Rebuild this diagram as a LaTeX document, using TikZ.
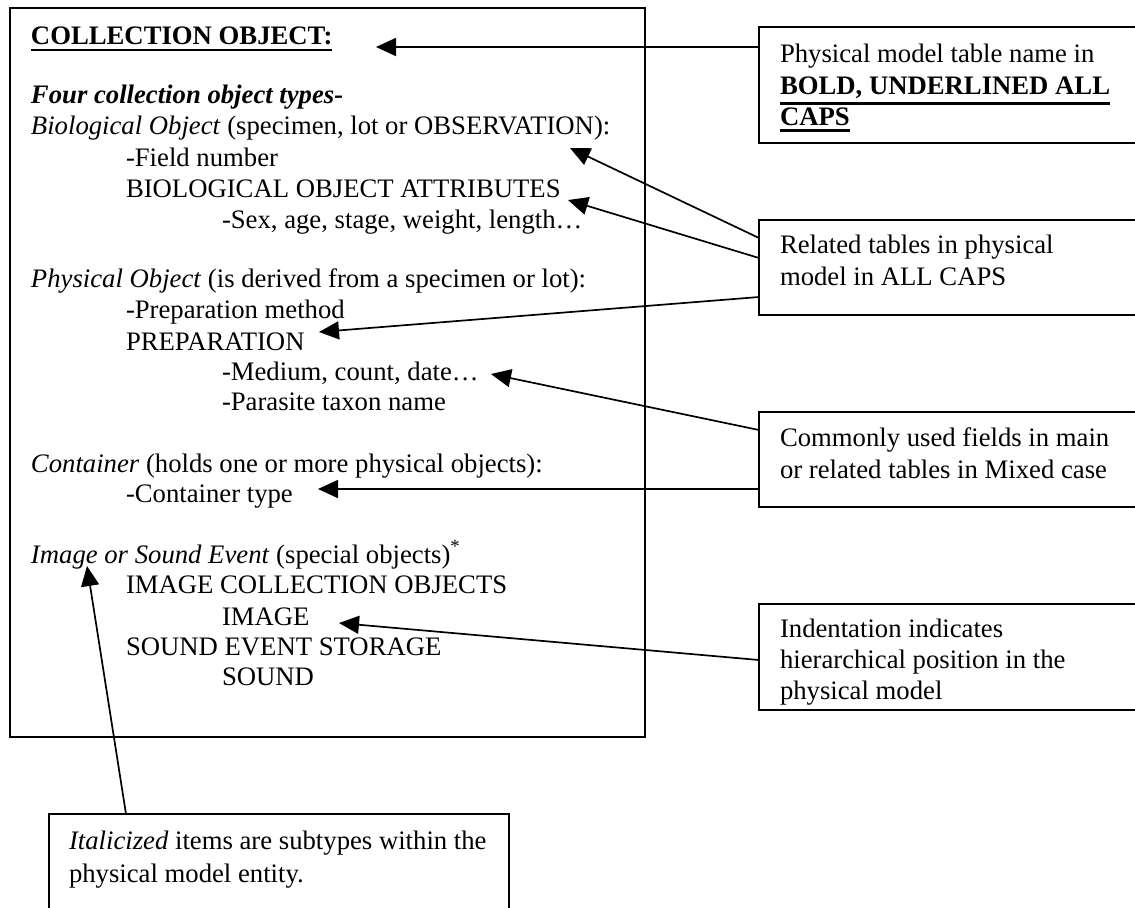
\documentclass[tikz,border=0pt]{standalone}
\usepackage{fontspec}
\setmainfont{Liberation Serif}
\usetikzlibrary{arrows.meta,calc}
\newcommand\myul[1]{\leavevmode\vtop{\hbox{#1}\kern2.1pt\hrule height 1.3pt}}
\begin{document}
\begin{tikzpicture}[x=0.5pt,y=-0.5pt,
  every node/.style={font=\fontsize{13.35pt}{15.75pt}\selectfont},
  ln/.style={anchor=base west, inner sep=0pt, outer sep=0pt},
  box/.style={draw, line width=1pt, anchor=north west, inner sep=0pt, outer sep=0pt},
  arr/.style={line width=0.85pt, -{Triangle[length=10pt,width=9pt]}}]
\useasboundingbox (0,0) rectangle (1135,907);
\fill[white] (0,0) rectangle (1135,907);

% boxes
\node[box, minimum width=317.5pt, minimum height=364.5pt] (main) at (10,8) {};
\node[box, minimum width=200.5pt, minimum height=58pt] (b1) at (759,27) {};
\node[box, minimum width=200.5pt, minimum height=47.5pt] (b2) at (759,220) {};
\node[box, minimum width=200.5pt, minimum height=47.5pt] (b3) at (759,412) {};
\node[box, minimum width=200.5pt, minimum height=53pt] (b4) at (759,604) {};
\node[box, minimum width=230pt, minimum height=60pt] (bb) at (49,814) {};

% main text
\node[ln] (l1) at (31,44) {\myul{\textbf{COLLECTION OBJECT:}}};
\node[ln] (l2) at (31,103) {\textbf{\textit{Four collection object types-}}};
\node[ln] (l3) at (31,134) {\textit{Biological Object} (specimen, lot or OBSERVATION):};
\node[ln] (l4) at (126,166) {-Field number};
\node[ln] (l5) at (126,197) {BIOLOGICAL OBJECT ATTRIBUTES};
\node[ln] (l6) at (222,228) {-Sex, age, stage, weight, length…};
\node[ln] (l7) at (31,287) {\textit{Physical Object} (is derived from a specimen or lot):};
\node[ln] (l8) at (126,318) {-Preparation method};
\node[ln] (l9) at (126,350) {PREPARATION};
\node[ln] (l10) at (222,380) {-Medium, count, date…};
\node[ln] (l11) at (222,410) {-Parasite taxon name};
\node[ln] (l12) at (31,472) {\textit{Container} (holds one or more physical objects):};
\node[ln] (l13) at (126,502) {-Container type};
\node[ln] (l14) at (31,563) {\textit{Image or Sound Event} (special objects)\textsuperscript{*}};
\node[ln] (l15) at (126,593) {IMAGE COLLECTION OBJECTS};
\node[ln] (l16) at (222,625) {IMAGE};
\node[ln] (l17) at (126,655) {SOUND EVENT STORAGE};
\node[ln] (l18) at (222,685) {SOUND};

% legend texts
\node[ln] (p1) at (780,62) {Physical model table name in};
\node[ln] (p2) at (780,94) {\myul{\textbf{BOLD, UNDERLINED ALL}}};
\node[ln] (p3) at (780,125) {\myul{\textbf{CAPS}}};
\node[ln] (r1) at (780,253) {Related tables in physical};
\node[ln] (r2) at (780,285) {model in ALL CAPS};
\node[ln] (c1) at (780,446) {Commonly used fields in main};
\node[ln] (c2) at (780,478) {or related tables in Mixed case};
\node[ln] (i1) at (780,637) {Indentation indicates};
\node[ln] (i2) at (780,668) {hierarchical position in the};
\node[ln] (i3) at (780,699) {physical model};
\node[ln] (k1) at (69,849) {\textit{Italicized} items are subtypes within the};
\node[ln] (k2) at (69,882) {physical model entity.};

% arrow tips
\coordinate (t1) at (376,47);
\coordinate (t2) at (570,148);
\coordinate (t3) at (568,200);
\coordinate (t4) at (319,332);
\coordinate (t5) at (491,374);
\coordinate (t6) at (318,489);
\coordinate (t7) at (339,623);
\coordinate (t8) at (87,566);

% connectors
\draw[arr] ($(b1.north west)+(0,20)$) -- (t1);
\draw[arr] ($(b2.north west)+(0,18)$) -- (t2);
\draw[arr] ($(b2.north west)+(0,38)$) -- (t3);
\draw[arr] ($(b2.north west)+(0,77)$) -- (t4);
\draw[arr] ($(b3.north west)+(0,18)$) -- (t5);
\draw[arr] ($(b3.north west)+(0,77)$) -- (t6);
\draw[arr] ($(b4.north west)+(0,56)$) -- (t7);
\draw[arr] ($(bb.north west)+(77,0)$) -- (t8);
\end{tikzpicture}
\end{document}
